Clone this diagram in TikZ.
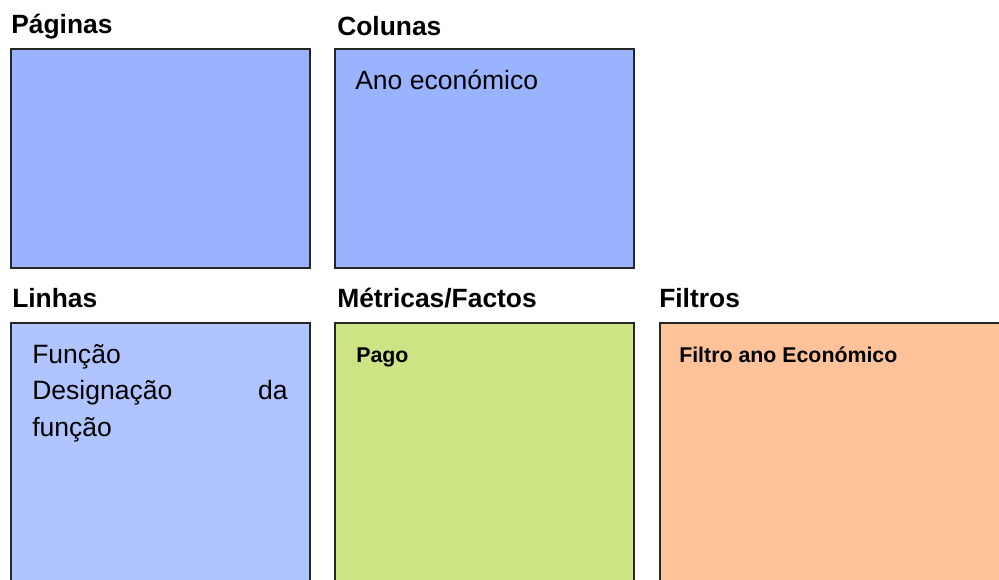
\documentclass[tikz,border=0pt]{standalone}
\usepackage{fontspec}
\setmainfont{Liberation Sans}
\definecolor{topblue}{HTML}{99B3FF}
\definecolor{lightblue}{HTML}{B0C4FF}
\definecolor{lgreen}{HTML}{CCE483}
\definecolor{lorange}{HTML}{FFC299}
\begin{document}
\begin{tikzpicture}[x=0.75pt,y=-0.75pt,
  panel/.style={draw=black!85,line width=1.4pt,inner sep=0pt,anchor=north west},
  heading/.style={anchor=base west,inner sep=0pt,font=\fontsize{19.8}{23}\selectfont\bfseries},
  body/.style={anchor=base west,inner sep=0pt,font=\fontsize{19.9}{23}\selectfont},
  small/.style={anchor=base west,inner sep=0pt,font=\fontsize{16}{19}\selectfont\bfseries}]
\useasboundingbox (0,0) rectangle (999,579);
\clip (0,0) rectangle (999,579);
% panels
\node[panel,fill=topblue,minimum width=299*0.75pt,minimum height=219*0.75pt] (pag) at (10,48) {};
\node[panel,fill=topblue,minimum width=299*0.75pt,minimum height=219*0.75pt] (col) at (334,48) {};
\node[panel,fill=lightblue,minimum width=299*0.75pt,minimum height=290*0.75pt] (lin) at (10,322) {};
\node[panel,fill=lgreen,minimum width=299*0.75pt,minimum height=290*0.75pt] (met) at (334,322) {};
\node[panel,fill=lorange,minimum width=360*0.75pt,minimum height=290*0.75pt] (fil) at (659,322) {};
% headings
\node[heading] (hpag) at (11,33) {Páginas};
\node[heading] (hcol) at (337,35) {Colunas};
\node[heading] (hlin) at (12,307) {Linhas};
\node[heading] (hmet) at (337,307) {Métricas/Factos};
\node[heading] (hfil) at (659,307) {Filtros};
% contents
\node[body] (ano) at (355,89) {Ano económico};
\node[body] (fun) at (32,363) {Função};
\node[body] (des) at (32,399) {Designação};
\node[body,anchor=base east] (da) at (288,399) {da};
\node[body] (fun2) at (32,436) {função};
\node[small] (pago) at (356,362) {Pago};
\node[small] (filtro) at (679,362) {Filtro ano Económico};
\end{tikzpicture}
\end{document}
